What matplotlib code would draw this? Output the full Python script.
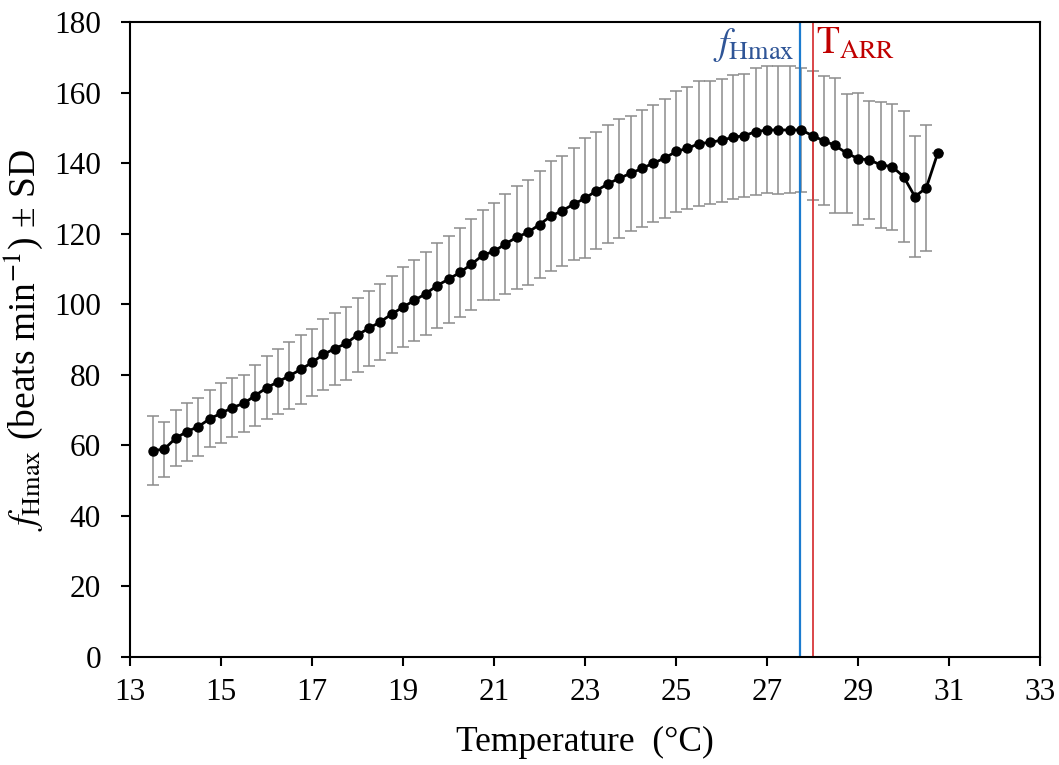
import numpy as np
import matplotlib.pyplot as plt

plt.rcParams['font.family'] = ['Liberation Serif', 'DejaVu Serif']
plt.rcParams['mathtext.fontset'] = 'stix'

# temperature (°C), mean fHmax and SD
temp = [13.5, 13.75, 14.0, 14.25, 14.5, 14.75, 15.0, 15.25, 15.5, 15.75,
        16.0, 16.25, 16.5, 16.75, 17.0, 17.25, 17.5, 17.75, 18.0, 18.25,
        18.5, 18.75, 19.0, 19.25, 19.5, 19.75, 20.0, 20.25, 20.5, 20.75,
        21.0, 21.25, 21.5, 21.75, 22.0, 22.25, 22.5, 22.75, 23.0, 23.25,
        23.5, 23.75, 24.0, 24.25, 24.5, 24.75, 25.0, 25.25, 25.5, 25.75,
        26.0, 26.25, 26.5, 26.75, 27.0, 27.25, 27.5, 27.75, 28.0, 28.25,
        28.5, 28.75, 29.0, 29.25, 29.5, 29.75, 30.0, 30.25, 30.5, 30.75]
fh_mean = [58.5, 58.9, 62.0, 63.9, 65.3, 67.5, 69.1, 70.7, 71.9, 74.1,
           76.3, 78.0, 79.7, 81.5, 83.5, 85.8, 87.4, 88.9, 91.3, 93.2,
           95.0, 97.2, 99.2, 101.1, 103.0, 105.3, 107.1, 109.0, 111.3, 113.9,
           115.0, 117.1, 119.0, 120.4, 122.6, 125.0, 126.5, 128.4, 130.0, 132.2,
           134.1, 135.7, 137.1, 138.5, 140.0, 141.4, 143.3, 144.2, 145.5, 145.9,
           146.5, 147.3, 147.8, 148.9, 149.4, 149.4, 149.4, 149.4, 147.8, 146.3,
           145.0, 142.8, 141.3, 140.9, 139.5, 139.0, 136.2, 130.5, 133.0, 142.8]
fh_sd = [9.7, 7.8, 7.9, 8.2, 8.2, 8.1, 8.5, 8.3, 8.1, 8.6,
         8.9, 9.2, 9.5, 9.8, 9.6, 10.0, 10.2, 10.3, 10.5, 10.6,
         10.7, 10.9, 11.3, 11.5, 11.7, 12.0, 12.3, 12.5, 13.0, 12.8,
         13.8, 14.2, 14.6, 14.9, 15.3, 15.5, 15.6, 15.8, 17.0, 16.5,
         16.7, 16.8, 16.4, 16.5, 16.6, 16.9, 17.2, 17.3, 17.7, 17.5,
         17.4, 17.6, 17.4, 18.0, 18.0, 18.2, 18.0, 17.7, 18.3, 18.3,
         19.0, 16.8, 18.7, 16.8, 17.8, 17.9, 18.5, 17.2, 17.9, 0.0]

t_fhmax = 27.73   # blue line
t_arr = 28.0      # red line

fig = plt.figure(figsize=(10.59, 7.65), dpi=100)
ax = fig.add_axes([0.1228, 0.1412, 0.8593, 0.83])

ax.errorbar(temp, fh_mean, yerr=fh_sd, fmt='none', ecolor='#8c8c8c',
            elinewidth=1.1, capsize=4, capthick=1.1, zorder=1)
ax.axvline(t_fhmax, color='#1b7bcf', lw=1.6, zorder=2)
ax.axvline(t_arr, color='#d8383a', lw=1.3, zorder=2)
ax.plot(temp, fh_mean, color='black', lw=2, marker='o', ms=6.5, zorder=3)

ax.text(27.6, 171, r'$f_{\mathrm{Hmax}}$', color='#2f5597', fontsize=27,
        ha='right', va='baseline')
ax.text(28.08, 171, r'$\mathrm{T}_{\mathrm{ARR}}$', color='#c00000', fontsize=27,
        ha='left', va='baseline')

ax.set_xlim(13, 33)
ax.set_ylim(0, 180)
ax.set_xticks(range(13, 34, 2))
ax.set_yticks(range(0, 181, 20))
ax.tick_params(axis='both', direction='out', length=6.5, width=1.5, labelsize=22.5)
ax.tick_params(axis='y', pad=14.5)
ax.tick_params(axis='x', pad=8.5)
for s in ax.spines.values():
    s.set_linewidth(1.5)

ax.set_xlabel('Temperature  (°C)', fontsize=25.5)
ax.xaxis.set_label_coords(0.5, -0.108)
ax.set_ylabel(r'$f_{\mathrm{Hmax}}$ (beats min$^{-1}$) ± SD', fontsize=27)
ax.yaxis.set_label_coords(-0.093, 0.5)

fig.savefig('out.png', dpi=100)
